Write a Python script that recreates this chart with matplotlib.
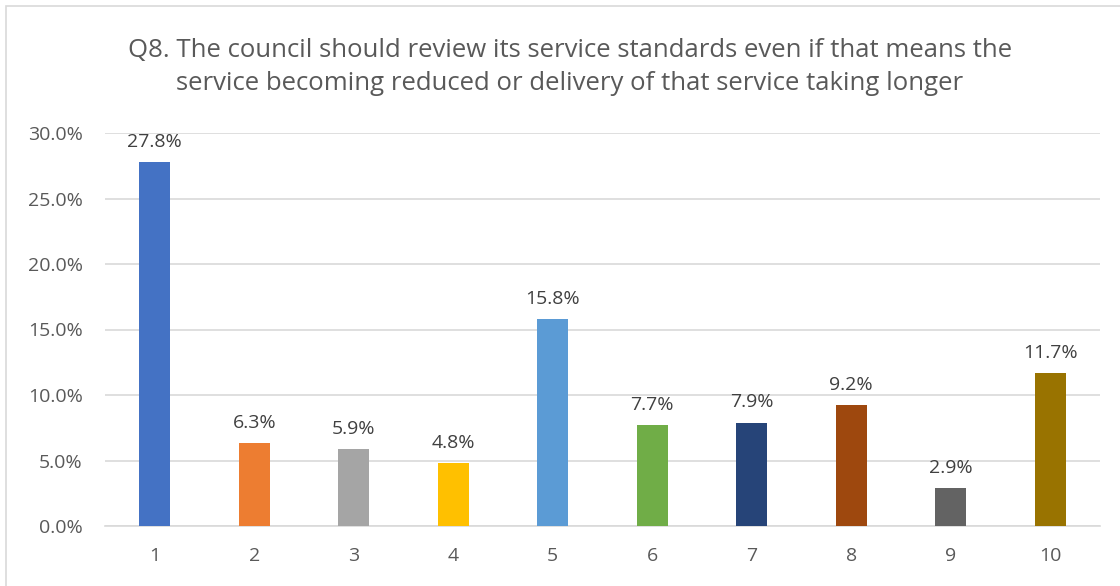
import numpy as np
import matplotlib.pyplot as plt
from matplotlib.patches import Rectangle
from matplotlib.ticker import FuncFormatter

plt.rcParams['font.family'] = ['Open Sans', 'DejaVu Sans']

# survey scores 1..10 and share of answers
scores = ['1', '2', '3', '4', '5', '6', '7', '8', '9', '10']
shares = [27.8, 6.3, 5.9, 4.8, 15.8, 7.7, 7.9, 9.2, 2.9, 11.7]
colours = ['#4472C4', '#ED7D31', '#A5A5A5', '#FFC000', '#5B9BD5',
           '#70AD47', '#264478', '#9E480E', '#636363', '#997300']

title = ('Q8. The council should review its service standards even if that means the\n'
         'service becoming reduced or delivery of that service taking longer')

fig = plt.figure(figsize=(11.2, 5.86), dpi=100)
ax = fig.add_axes([105/1120, 60/586, 995/1120, 393/586])

x = np.arange(len(scores))
bars = ax.bar(x, shares, width=0.31, color=colours, zorder=3)

for b, v in zip(bars, shares):
    ax.annotate('%.1f%%' % v, (b.get_x() + b.get_width()/2, v),
                xytext=(0, 8), textcoords='offset points',
                ha='center', va='bottom', fontsize=14, color='#404040')

ax.set_xlim(-0.5, len(scores) - 0.5)
ax.set_ylim(0, 30)
ax.set_yticks(np.arange(0, 31, 5))
ax.yaxis.set_major_formatter(FuncFormatter(lambda v, p: '%.1f%%' % v))
ax.set_xticks(x)
ax.set_xticklabels(scores)
ax.tick_params(length=0, labelsize=14, colors='#595959')
ax.tick_params(axis='y', pad=16)
ax.tick_params(axis='x', pad=15)

ax.grid(axis='y', color='#D9D9D9', linewidth=1.2, zorder=0)
for s in ['top', 'right', 'left']:
    ax.spines[s].set_visible(False)
ax.spines['bottom'].set_color('#D9D9D9')
ax.spines['bottom'].set_linewidth(1.2)

fig.text(570/1120, 1 - 67/586, title, ha='center', va='center',
         fontsize=18.5, color='#595959', linespacing=1.44)

# chart border
fig.patches.append(Rectangle((6/1120, -0.1), 1.2, 1 - 6/586 + 0.1,
                             transform=fig.transFigure, fill=False,
                             edgecolor='#D9D9D9', linewidth=1.2))

plt.savefig('out.png')
